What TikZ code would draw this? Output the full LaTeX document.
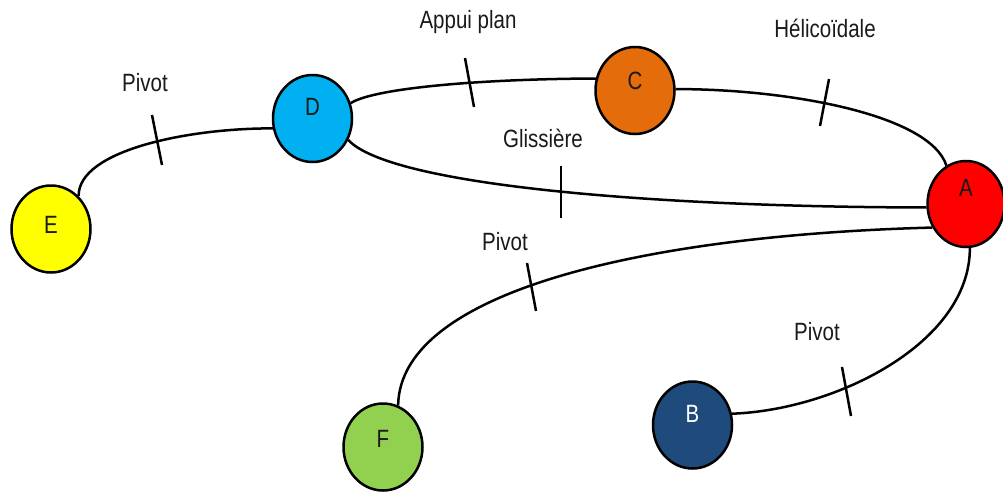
\documentclass[tikz,border=0pt]{standalone}
\usepackage{fontspec}
\setmainfont{Liberation Sans}[FakeStretch=0.82]
\usetikzlibrary{shapes.geometric}
\definecolor{cA}{HTML}{FF0000}
\definecolor{cB}{HTML}{1F4A7C}
\definecolor{cC}{HTML}{E46C0A}
\definecolor{cD}{HTML}{00B0F0}
\definecolor{cE}{HTML}{FFFF00}
\definecolor{cF}{HTML}{92D050}
\definecolor{ink}{HTML}{1A1A1A}
\begin{document}
\begin{tikzpicture}[x=1pt,y=-1pt,
  part/.style={ellipse, draw=black, line width=2.5pt, minimum width=79pt, minimum height=87pt, inner sep=0pt},
  letter/.style={font=\fontsize{25pt}{30pt}\selectfont, text=ink, inner sep=0pt},
  link/.style={line width=2.5pt, draw=black},
  tickline/.style={line width=2.5pt, draw=black},
  lname/.style={font=\fontsize{25pt}{30pt}\selectfont, text=ink, anchor=base, inner sep=0pt}]
\useasboundingbox (0,0) rectangle (1003,491);
\node[part, fill=cE, label={[letter, yshift=4pt]center:E}] (E) at (51,229) {};
\node[part, fill=cD, label={[letter, yshift=12pt]center:D}] (D) at (312.5,118.5) {};
\node[part, fill=cC, label={[letter, yshift=10pt]center:C}] (C) at (635,90.5) {};
\node[part, fill=cA, minimum width=77pt, minimum height=86pt, label={[letter, yshift=16pt]center:A}] (A) at (966,204) {};
\node[part, fill=cF, label={[letter, yshift=8pt]center:F}] (F) at (383,447) {};
\node[part, fill=cB, label={[letter, text=white, yshift=11pt]center:B}] (B) at (692.5,425) {};
\draw[link] (E.50) .. controls (78,150) and (190,128) .. (D.194);
\draw[link] (D.22) .. controls (375,88) and (480,79) .. (C.163);
\draw[link] (C.2) .. controls (790,89) and (930,115) .. (A.117);
\draw[link] (D.-31) .. controls (390,185) and (650,207) .. (A.185);
\draw[link] (F.70) .. controls (400,290) and (650,235) .. (A.215);
\draw[link] (A.-85) .. controls (970,343) and (836,410) .. (B.16);
\draw[tickline] (152,115) -- (162,165);
\draw[tickline] (465,58) -- (474,107);
\draw[tickline] (829,79) -- (820,126);
\draw[tickline] (561,166) -- (561,218);
\draw[tickline] (527,263) -- (536,311);
\draw[tickline] (842,367) -- (851,416);
\node[lname] (l1) at (145,91.5) {Pivot};
\node[lname] (l2) at (468,28.5) {Appui plan};
\node[lname] (l3) at (825,37.7) {Hélicoïdale};
\node[lname] (l4) at (543,147.3) {Glissière};
\node[lname] (l5) at (505,250.7) {Pivot};
\node[lname] (l6) at (817,340) {Pivot};
\end{tikzpicture}
\end{document}
